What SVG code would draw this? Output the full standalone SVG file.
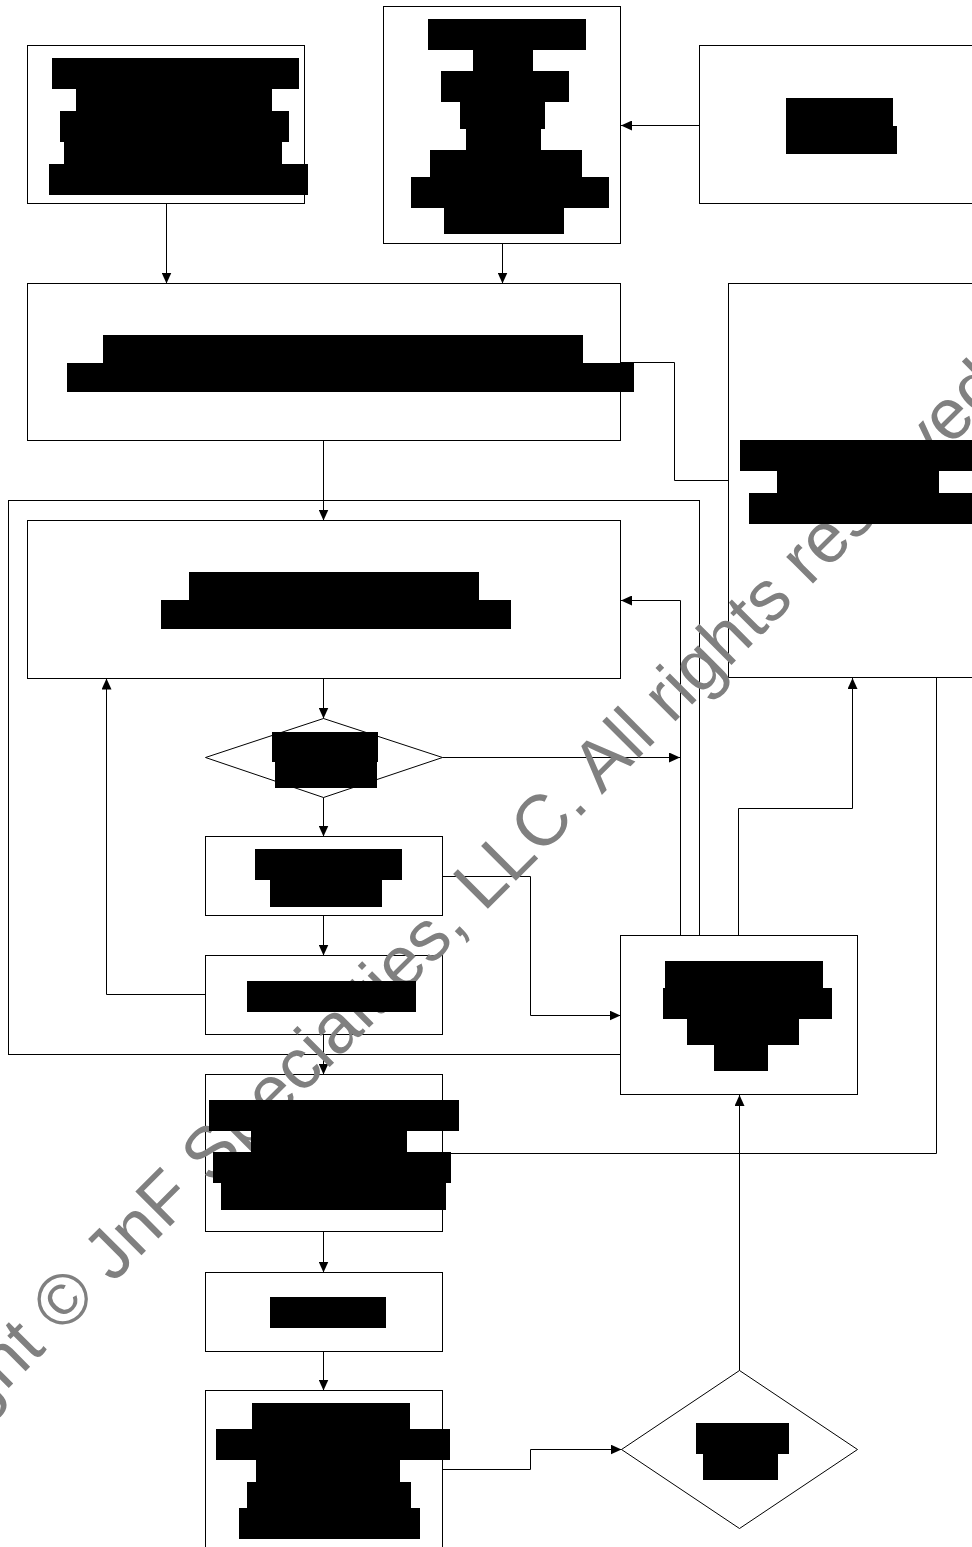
<svg xmlns="http://www.w3.org/2000/svg" width="972" height="1547" viewBox="0 0 972 1547">
<style>
.box{fill:#fff;stroke:#000;stroke-width:1}
.frame{fill:none;stroke:#000;stroke-width:1}
.conn{fill:none;stroke:#000;stroke-width:1}
.red{fill:#000}
.wm{font-family:"Liberation Sans","Arial",sans-serif;font-size:71.5px;fill:#808080}
</style>
<defs>
<marker id="arr" markerUnits="userSpaceOnUse" markerWidth="12" markerHeight="10" refX="11" refY="5" orient="auto">
<path d="M0,0 L11,5 L0,10 z" fill="#000"/>
</marker>
</defs>
<rect width="972" height="1547" fill="#fff"/>
<g id="container-F"><rect class="frame" x="8.5" y="500.5" width="691" height="554"/></g>
<g id="node-A"><rect class="box" x="27.5" y="45.5" width="277" height="158"/></g>
<g id="node-B"><rect class="box" x="383.5" y="6.5" width="237" height="237"/></g>
<g id="node-C"><rect class="box" x="699.5" y="45.5" width="320" height="158"/></g>
<g id="node-D"><rect class="box" x="27.5" y="283.5" width="593" height="157"/></g>
<g id="node-E"><rect class="box" x="728.5" y="283.5" width="300" height="394"/></g>
<g id="node-G"><rect class="box" x="27.5" y="520.5" width="593" height="158"/></g>
<g id="node-H"><polygon class="box" points="323.5,718.5 442.5,757.5 323.5,797.5 205.5,757.5"/></g>
<g id="node-I"><rect class="box" x="205.5" y="836.5" width="237" height="79"/></g>
<g id="node-K"><rect class="box" x="205.5" y="955.5" width="237" height="79"/></g>
<g id="node-J"><rect class="box" x="620.5" y="935.5" width="237" height="159"/></g>
<g id="node-L"><rect class="box" x="205.5" y="1074.5" width="237" height="157"/></g>
<g id="node-M"><rect class="box" x="205.5" y="1272.5" width="237" height="79"/></g>
<g id="node-O"><rect class="box" x="205.5" y="1390.5" width="237" height="180"/></g>
<g id="node-N"><polygon class="box" points="739.5,1370.5 857.5,1449.5 739.5,1528.5 621.5,1449.5"/></g>
<g id="connectors">
<path class="conn" d="M166.5,203.5 V283.5" marker-end="url(#arr)"/>
<path class="conn" d="M502.5,243.5 V283.5" marker-end="url(#arr)"/>
<path class="conn" d="M699.5,125.5 H621" marker-end="url(#arr)"/>
<path class="conn" d="M620.5,362.5 H674.5 V480.5 H728.5"/>
<path class="conn" d="M323.5,440.5 V520.5" marker-end="url(#arr)"/>
<path class="conn" d="M323.5,678.5 V718.5" marker-end="url(#arr)"/>
<path class="conn" d="M442.5,757.5 H680" marker-end="url(#arr)"/>
<path class="conn" d="M680.5,935.5 V600.5 H621" marker-end="url(#arr)"/>
<path class="conn" d="M323.5,797.5 V836.5" marker-end="url(#arr)"/>
<path class="conn" d="M442.5,876.5 H530.5 V1015.5 H620.5" marker-end="url(#arr)"/>
<path class="conn" d="M323.5,915.5 V955.5" marker-end="url(#arr)"/>
<path class="conn" d="M205.5,994.5 H106.5 V678.5" marker-end="url(#arr)"/>
<path class="conn" d="M738.5,935.5 V808.5 H852.5 V678" marker-end="url(#arr)"/>
<path class="conn" d="M936.5,677.5 V1153.5 H442.5"/>
<path class="conn" d="M323.5,1034.5 V1074.5" marker-end="url(#arr)"/>
<path class="conn" d="M323.5,1231.5 V1272.5" marker-end="url(#arr)"/>
<path class="conn" d="M323.5,1351.5 V1390.5" marker-end="url(#arr)"/>
<path class="conn" d="M442.5,1469.5 H530.5 V1449.5 H621.5" marker-end="url(#arr)"/>
<path class="conn" d="M739.5,1370.5 V1095" marker-end="url(#arr)"/>
</g>
<g id="watermark"><text class="wm" transform="translate(-169,1565.7) rotate(-45)">Copyright © JnF Specialties, LLC. All rights reserved</text></g>
<g id="labels">
<g id="label-A"><rect class="red" x="52" y="58" width="247" height="31"/><rect class="red" x="76" y="89" width="196" height="22"/><rect class="red" x="60" y="111" width="229" height="31"/><rect class="red" x="64" y="142" width="218" height="22"/><rect class="red" x="49" y="164" width="259" height="31"/></g>
<g id="label-B"><rect class="red" x="428" y="19" width="158" height="31"/><rect class="red" x="473" y="50" width="60" height="21"/><rect class="red" x="441" y="71" width="128" height="31"/><rect class="red" x="460" y="102" width="85" height="27"/><rect class="red" x="466" y="129" width="75" height="21"/><rect class="red" x="430" y="150" width="152" height="27"/><rect class="red" x="411" y="177" width="198" height="31"/><rect class="red" x="444" y="208" width="120" height="26"/></g>
<g id="label-C"><rect class="red" x="786" y="98" width="107" height="28"/><rect class="red" x="786" y="126" width="111" height="28"/></g>
<g id="label-D"><rect class="red" x="103" y="335" width="480" height="28"/><rect class="red" x="67" y="363" width="567" height="29"/></g>
<g id="label-E"><rect class="red" x="740" y="440" width="240" height="31"/><rect class="red" x="777" y="471" width="162" height="22"/><rect class="red" x="749" y="493" width="231" height="31"/></g>
<g id="label-G"><rect class="red" x="189" y="572" width="290" height="28"/><rect class="red" x="161" y="600" width="350" height="29"/></g>
<g id="label-H"><rect class="red" x="272" y="732" width="106" height="30"/><rect class="red" x="275" y="762" width="102" height="26"/></g>
<g id="label-I"><rect class="red" x="255" y="849" width="147" height="31"/><rect class="red" x="270" y="880" width="112" height="27"/></g>
<g id="label-K"><rect class="red" x="247" y="981" width="169" height="31"/></g>
<g id="label-J"><rect class="red" x="665" y="961" width="158" height="27"/><rect class="red" x="663" y="988" width="169" height="31"/><rect class="red" x="687" y="1019" width="112" height="26"/><rect class="red" x="714" y="1045" width="54" height="26"/></g>
<g id="label-L"><rect class="red" x="209" y="1100" width="250" height="31"/><rect class="red" x="251" y="1131" width="156" height="21"/><rect class="red" x="213" y="1152" width="238" height="31"/><rect class="red" x="221" y="1183" width="225" height="27"/></g>
<g id="label-M"><rect class="red" x="270" y="1297" width="116" height="31"/></g>
<g id="label-O"><rect class="red" x="252" y="1403" width="158" height="26"/><rect class="red" x="216" y="1429" width="234" height="31"/><rect class="red" x="256" y="1460" width="144" height="22"/><rect class="red" x="247" y="1482" width="164" height="26"/><rect class="red" x="239" y="1508" width="181" height="31"/></g>
<g id="label-N"><rect class="red" x="696" y="1423" width="93" height="31"/><rect class="red" x="703" y="1454" width="75" height="26"/></g>
</g>
</svg>
